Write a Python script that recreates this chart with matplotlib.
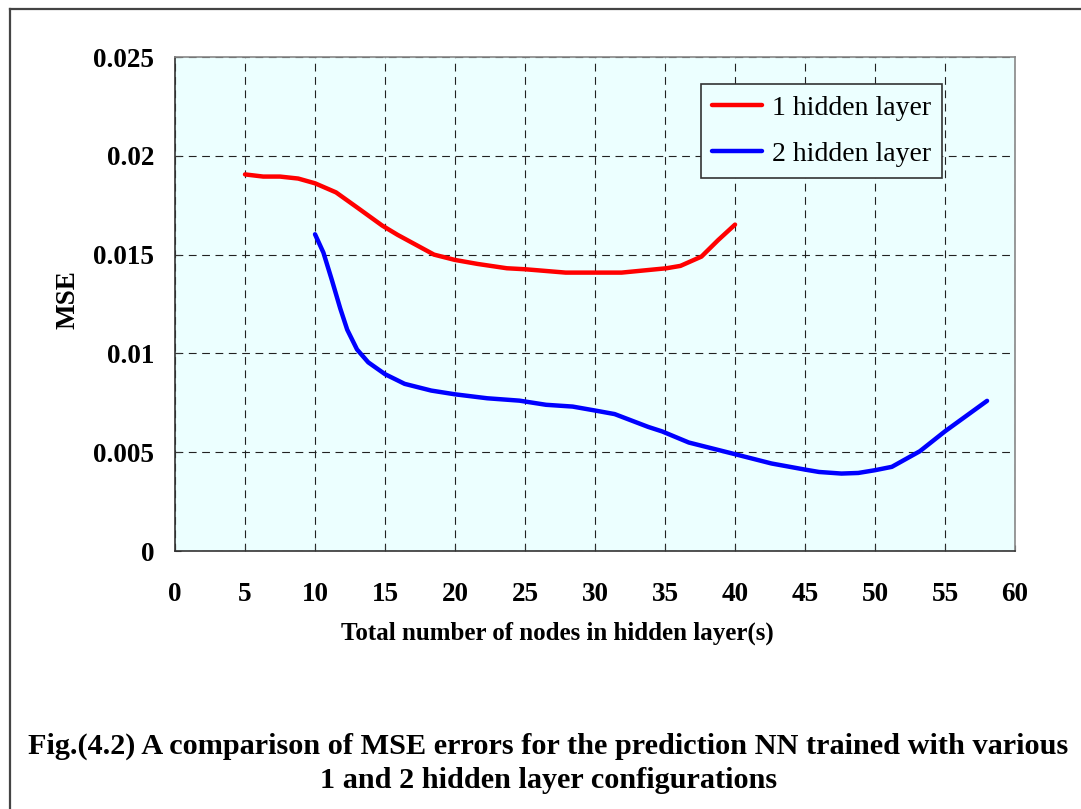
import numpy as np
import matplotlib
matplotlib.use("Agg")
import matplotlib.pyplot as plt
from matplotlib.lines import Line2D

plt.rcParams["font.family"] = ["Liberation Serif", "DejaVu Serif"]

# 1 hidden layer (red)
x1 = [5, 6.3, 7.5, 8.8, 10, 11.5, 13.1, 14.8, 15.9, 18.5, 20, 21.6, 23.7, 25,
      27.9, 30, 31.9, 35.1, 36.1, 37.6, 38.8, 40]
mse1 = [0.01906, 0.01895, 0.01895, 0.01885, 0.01861, 0.01815, 0.01734, 0.01647,
        0.0160, 0.0150, 0.01473, 0.01453, 0.01431, 0.01426, 0.01409, 0.01409,
        0.01409, 0.01431, 0.01443, 0.0149, 0.01574, 0.01652]

# 2 hidden layers (blue)
x2 = [10, 10.6, 11.2, 11.8, 12.3, 13.0, 13.8, 15, 16.4, 18.3, 20, 22.3, 24.6,
      26.5, 28.4, 30, 31.4, 33.8, 34.8, 36.7, 40, 42.6, 45, 46, 47.6, 48.8, 50,
      51.2, 53.2, 55, 58]
mse2 = [0.01603, 0.0151, 0.01372, 0.01228, 0.0112, 0.0102, 0.00955, 0.00895,
        0.00846, 0.00812, 0.00793, 0.00773, 0.00761, 0.0074, 0.00731, 0.00711,
        0.00693, 0.00628, 0.00605, 0.00549, 0.0049, 0.00443, 0.00412, 0.004,
        0.00392, 0.00395, 0.00409, 0.00426, 0.00505, 0.00606, 0.0076]

xticks = list(range(0, 61, 5))
yticks = [0, 0.005, 0.01, 0.015, 0.02, 0.025]
ytick_labels = ["0", "0.005", "0.01", "0.015", "0.02", "0.025"]

fig = plt.figure(figsize=(10.81, 8.09), dpi=100)
ax = fig.add_axes([0.1619, 0.3189, 0.7771, 0.6106])
ax.set_facecolor("#ecffff")

ax.plot(x1, mse1, color="#ff0000", lw=3.2, label="1 hidden layer",
        solid_capstyle="round", zorder=3)
ax.plot(x2, mse2, color="#0000ff", lw=3.2, label="2 hidden layer",
        solid_capstyle="round", zorder=3)

ax.set_xlim(0, 60)
ax.set_ylim(0, 0.025)
ax.set_xticks(xticks)
ax.set_yticks(yticks)
ax.set_yticklabels(ytick_labels)
for lab in ax.get_xticklabels() + ax.get_yticklabels():
    lab.set_fontweight("bold")
    lab.set_fontsize(19.5)
ax.tick_params(axis="both", direction="in", length=4, width=0.8, colors="#333333",
               labelcolor="black")
ax.tick_params(axis="x", pad=22)
ax.tick_params(axis="y", pad=15)

ax.grid(True, color="#222222", linestyle=(0, (7, 5)), linewidth=0.8)
ax.set_axisbelow(True)

for side in ["top", "right"]:
    ax.spines[side].set_color("#888888")
    ax.spines[side].set_linewidth(1.2)
for side in ["left", "bottom"]:
    ax.spines[side].set_color("#333333")
    ax.spines[side].set_linewidth(1.2)

# x label sits a little left of the axes centre in the original
fig.text(557 / 1081, 1 - 633 / 809, "Total number of nodes in hidden layer(s)",
         ha="center", va="center", fontsize=18, fontweight="bold")
fig.text(68 / 1081, 1 - 300 / 809, "MSE", rotation=90, ha="center", va="center",
         fontsize=19.5, fontweight="bold")

leg = ax.legend(loc="upper right", bbox_to_anchor=(0.913, 0.945), fontsize=20,
                frameon=True, fancybox=False, edgecolor="#333333",
                facecolor="#ecffff", framealpha=1, handlelength=1.8,
                borderpad=0.4, labelspacing=0.75, handletextpad=0.35,
                borderaxespad=0)
leg.get_frame().set_linewidth(1.2)

# caption
fig.text(0.507, 1 - 746 / 809,
         "Fig.(4.2) A comparison of MSE errors for the prediction NN trained with various",
         ha="center", va="center", fontsize=21.8, fontweight="bold")
fig.text(0.507, 1 - 780 / 809, "1 and 2 hidden layer configurations",
         ha="center", va="center", fontsize=21.8, fontweight="bold")

# outer frame (left and top edges visible)
fig.add_artist(Line2D([0.0088, 0.0088], [0, 1 - 0.0111], transform=fig.transFigure,
                      color="#444444", lw=1.6))
fig.add_artist(Line2D([0.0088, 1], [1 - 0.0111, 1 - 0.0111], transform=fig.transFigure,
                      color="#444444", lw=1.6))

fig.savefig("out.png", dpi=100)
